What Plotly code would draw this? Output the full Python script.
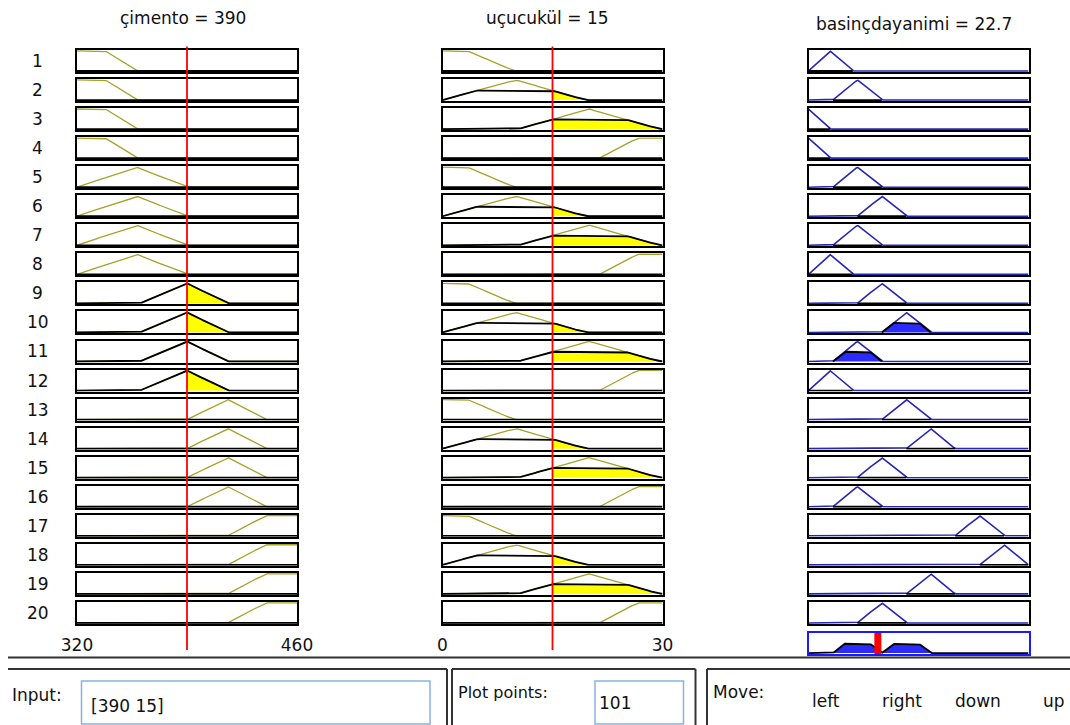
import numpy as np
import plotly.graph_objects as go

W, H = 1070, 725

# ---------------- data ----------------
rule_numbers = list(range(1, 21))
input1_name = "çimento"
input2_name = "uçucukül"
output_name = "basinçdayanimi"
cimento_value = 390
ucucukul_value = 15
basinc_value = 22.7
cimento_range = [320, 460]
ucucukul_range = [0, 30]
basinc_range = [0, 72]
cimento_ticks = [320, 460]
ucucukul_ticks = [0, 30]

# trapezoid parameters [a, b, c, d] (triangles have b == c)
cimento_mf = [[320, 320, 338, 358], [320, 358, 358, 390], [360, 390, 390, 416],
              [390, 416, 416, 440], [416, 440, 460, 460]]
ucucukul_mf = [[0, 0, 3.4, 9.8], [0, 10, 10, 19.5], [10.3, 20, 20, 29.6],
               [21.4, 26.6, 30, 30]]
basinc_mf = [[-7, 0, 0, 7], [0, 7, 7, 14.5], [8, 16, 16, 24], [16, 24, 24, 32],
             [24, 32, 32, 40], [32, 40, 40, 48], [40, 48, 48, 56], [48, 56, 56, 64],
             [56, 64, 64, 72]]

rule_cimento = [1, 1, 1, 1, 2, 2, 2, 2, 3, 3, 3, 3, 4, 4, 4, 4, 5, 5, 5, 5]
rule_ucucukul = [1, 2, 3, 4, 1, 2, 3, 4, 1, 2, 3, 4, 1, 2, 3, 4, 1, 2, 3, 4]
rule_basinc = [2, 3, 1, 1, 3, 4, 3, 2, 4, 5, 3, 2, 5, 6, 4, 3, 8, 9, 6, 4]
cimento_shaded = [1, 1, 1, 1, 1, 1, 1, 1, 1, 1, 0, 1, 1, 1, 1, 1, 1, 1, 1, 1]

input_text = "[390 15]"
plot_points = 101
move_buttons = ["left", "right", "down", "up"]

# ---------------- styling / geometry ----------------
FONT = "DejaVu Sans"
FS = 17
OLIVE = "#a3a32a"
YELLOW = "#ffff00"
BLUE_LINE = "#2626b4"
BLUE_FILL = "#2b2bff"
COL_X = [(77, 297), (442.5, 662.5), (808.5, 1028.5)]
ROW_TOP0, ROW_STEP, ROW_H = 50, 29.05, 22
AGG_Y = (633, 654)
YR = [-0.05, 1.045]


def trap(x, p):
    a, b, c, d = p
    x = np.asarray(x, dtype=float)
    y = np.ones_like(x)
    if b > a:
        y = np.where(x < b, (x - a) / (b - a), y)
    else:
        y = np.where(x < a, 0.0, y)
    if d > c:
        y = np.where(x > c, np.minimum(y, (d - x) / (d - c)), y)
    else:
        y = np.where(x > d, 0.0, y)
    return np.clip(y, 0, 1)


def grid(rng, params, extra=()):
    pts = [rng[0], rng[1]] + [v for p in params for v in p] + list(extra)
    pts = [v for v in pts if rng[0] <= v <= rng[1]]
    return np.unique(np.concatenate([np.linspace(rng[0], rng[1], 1401), pts]))


fig = go.Figure()
layout_axes = {}
n_ax = [0]


def new_axes(xpx, ypx, xrange, linecolor="black", xextra=None):
    n_ax[0] += 1
    n = n_ax[0]
    xk = "xaxis" if n == 1 else f"xaxis{n}"
    yk = "yaxis" if n == 1 else f"yaxis{n}"
    xr = "x" if n == 1 else f"x{n}"
    yr = "y" if n == 1 else f"y{n}"
    xa = dict(domain=[xpx[0] / W, xpx[1] / W], range=list(xrange), anchor=yr,
              showline=True, mirror=True, linecolor=linecolor, linewidth=1.8,
              showgrid=False, zeroline=False, showticklabels=False, ticks="",
              fixedrange=True, automargin=False)
    if xextra:
        xa.update(xextra)
    ya = dict(domain=[1 - ypx[1] / H, 1 - ypx[0] / H], range=YR, anchor=xr,
              showline=True, mirror=True, linecolor=linecolor, linewidth=1.8,
              showgrid=False, zeroline=False, showticklabels=False, ticks="",
              fixedrange=True, automargin=False)
    layout_axes[xk] = xa
    layout_axes[yk] = ya
    return xr, yr


def line(x, y, color, xr, yr, width=1.3, fill=None, fillcolor=None):
    fig.add_trace(go.Scatter(x=x, y=y, mode="lines", xaxis=xr, yaxis=yr,
                             line=dict(color=color, width=width), fill=fill,
                             fillcolor=fillcolor, hoverinfo="skip", showlegend=False))


inputs = [(cimento_mf, rule_cimento, cimento_value, cimento_range, cimento_ticks, cimento_shaded),
          (ucucukul_mf, rule_ucucukul, ucucukul_value, ucucukul_range, ucucukul_ticks, [1] * 20)]

out_xs = grid(basinc_range, basinc_mf)
agg = np.zeros_like(out_xs)
first_axes = []

for r in range(20):
    ytop = ROW_TOP0 + r * ROW_STEP
    ypx = (ytop, ytop + ROW_H)
    levels = []
    for c, (mfs, rule_idx, val, rng, ticks, shaded) in enumerate(inputs):
        extra = None
        if r == 19:
            extra = dict(showticklabels=True, tickvals=ticks, ticktext=[str(t) for t in ticks],
                         tickfont=dict(family=FONT, size=FS, color="#111"),
                         ticklabelstandoff=5)
        xr, yr = new_axes(COL_X[c], ypx, rng, xextra=extra)
        if r == 0:
            first_axes.append(xr)
        mf = mfs[rule_idx[r] - 1]
        lvl = float(trap([val], mf)[0])
        levels.append(lvl)
        xs = grid(rng, mfs, [val])
        mu = trap(xs, mf)
        clipped = np.minimum(mu, lvl)
        if lvl > 0 and shaded[r]:
            m = xs >= val
            line(xs[m], clipped[m], YELLOW, xr, yr, width=0, fill="tozeroy", fillcolor=YELLOW)
        line(xs, mu, OLIVE, xr, yr)
        line(xs, clipped, "black", xr, yr, width=1.8)
    # output
    w = min(levels)
    xr, yr = new_axes(COL_X[2], ypx, basinc_range)
    mf = basinc_mf[rule_basinc[r] - 1]
    mu = trap(out_xs, mf)
    clipped = np.minimum(mu, w)
    agg = np.maximum(agg, clipped)
    sup = (out_xs >= mf[0]) & (out_xs <= mf[3])
    if w > 0:
        line(out_xs[sup], clipped[sup], BLUE_FILL, xr, yr, width=0, fill="tozeroy", fillcolor=BLUE_FILL)
    line(out_xs, mu, BLUE_LINE, xr, yr, width=1.6)
    line(out_xs[sup], clipped[sup], "black", xr, yr, width=1.8)

# aggregate output panel
xr, yr = new_axes(COL_X[2], AGG_Y, basinc_range, linecolor="#1a1aff")
line(out_xs, agg, BLUE_FILL, xr, yr, width=0, fill="tozeroy", fillcolor=BLUE_FILL)
line(out_xs, agg, "black", xr, yr, width=1.8)
line([basinc_value, basinc_value], [YR[0], YR[1]], "#ff0000", xr, yr, width=7)

# ---------------- annotations ----------------
ann = []


def text(t, xpx, ypx, xanchor="center", size=FS):
    ann.append(dict(text=t, x=xpx / W, y=1 - ypx / H, xref="paper", yref="paper",
                    xanchor=xanchor, yanchor="middle", showarrow=False,
                    font=dict(family=FONT, size=size, color="#111")))


text(f"{input1_name} = {cimento_value}", 182.5, 18.5)
text(f"{input2_name} = {ucucukul_value}", 547, 18.5)
text(f"{output_name} = {basinc_value}", 914, 23.5)
for r, num in enumerate(rule_numbers):
    text(str(num), 37.5, ROW_TOP0 + r * ROW_STEP + ROW_H / 2)

text("Input:", 10, 695, xanchor="left")
text(input_text, 89, 706, xanchor="left")
text("Plot points:", 456, 692, xanchor="left", size=16)
text(str(plot_points), 597, 703, xanchor="left")
text("Move:", 711, 692, xanchor="left")
for lbl, cx in zip(move_buttons, [826, 902, 978, 1054]):
    text(lbl, cx, 701)

# ---------------- shapes ----------------
shapes = []
red_vals = [cimento_value, ucucukul_value]
for xr_, v in zip(first_axes, red_vals):
    shapes.append(dict(type="line", xref=xr_, yref="paper", x0=v, x1=v,
                       y0=1 - 46.5 / H, y1=1 - 650 / H, layer="above",
                       line=dict(color="#ff0000", width=1.8)))


def pline(x0, y0, x1, y1, color="#333333", width=2):
    shapes.append(dict(type="line", xref="paper", yref="paper", x0=x0 / W, x1=x1 / W,
                       y0=1 - y0 / H, y1=1 - y1 / H, line=dict(color=color, width=width)))


def prect(x0, y0, x1, y1, color, width=1.5):
    shapes.append(dict(type="rect", xref="paper", yref="paper", x0=x0 / W, x1=x1 / W,
                       y0=1 - y1 / H, y1=1 - y0 / H, fillcolor="white",
                       line=dict(color=color, width=width), layer="below"))


pline(8, 657.5, 1070, 657.5)
pline(8, 669, 447, 669)
pline(447, 669, 447, 725)
pline(452, 669, 695.5, 669)
pline(452, 669, 452, 725)
pline(695.5, 669, 695.5, 725)
pline(707, 669, 1070, 669)
pline(707, 669, 707, 725)
prect(81.5, 681, 430, 724, "#86b2df")
prect(595, 681, 683.5, 724, "#86b2df")

fig.update_layout(width=W, height=H,
                  margin=dict(l=0, r=0, t=0, b=0, pad=0, autoexpand=False),
                  paper_bgcolor="white", plot_bgcolor="white",
                  showlegend=False, annotations=ann, shapes=shapes, **layout_axes)

fig.write_html("out.html", config={"displayModeBar": False},
               post_script="document.body.style.margin='0';")
